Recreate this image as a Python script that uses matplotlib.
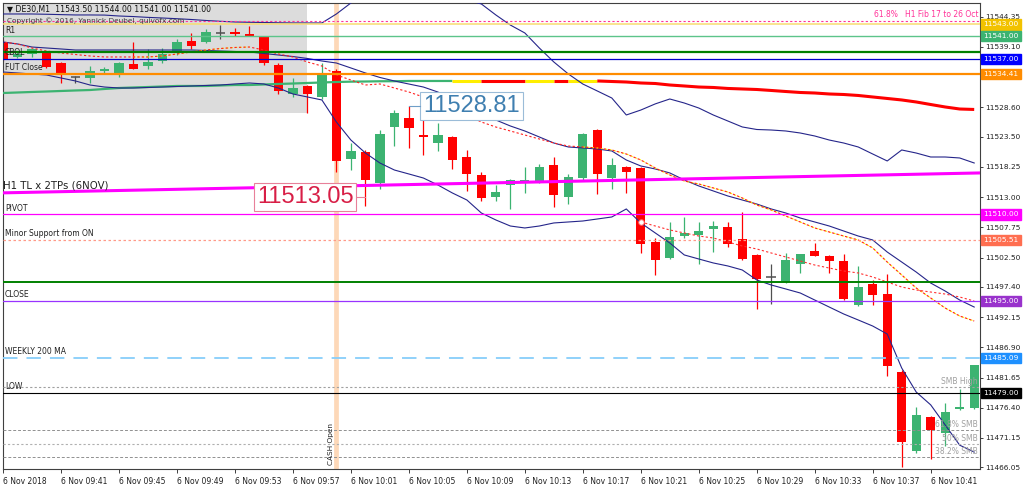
import matplotlib
matplotlib.use("Agg")
import matplotlib.pyplot as plt

# DE30 M1 candles, 09:37 .. 10:44
opens = [11540.00, 11537.40, 11537.85, 11538.26, 11536.35, 11533.92, 11533.64, 11534.85, 11534.38, 11536.18,
         11535.77, 11536.65, 11538.26, 11540.10, 11540.00, 11541.46, 11541.74, 11541.34, 11540.87, 11535.95,
         11530.85, 11532.30, 11530.44, 11534.90, 11519.60, 11520.77, 11515.48, 11525.20, 11526.78, 11523.78,
         11522.33, 11523.48, 11520.00, 11516.82, 11512.94, 11515.08, 11515.66, 11515.66, 11518.56, 11512.94,
         11516.24, 11524.65, 11516.35, 11518.25, 11518.08, 11505.22, 11502.50, 11506.26, 11506.50, 11507.38,
         11507.83, 11505.64, 11502.90, 11499.10, 11498.27, 11501.30, 11503.60, 11502.74, 11501.87, 11494.26,
         11497.86, 11496.20, 11482.61, 11468.87, 11474.79, 11472.07, 11476.24, 11476.41]
highs = [11540.30, 11538.20, 11538.96, 11538.40, 11536.45, 11534.00, 11535.83, 11535.55, 11536.40, 11540.00,
         11538.68, 11538.85, 11540.40, 11541.46, 11542.16, 11542.90, 11542.33, 11542.73, 11540.95, 11536.24,
         11533.64, 11532.45, 11536.24, 11535.20, 11522.33, 11521.10, 11524.65, 11528.12, 11528.81, 11526.38,
         11525.80, 11523.60, 11521.17, 11517.40, 11515.08, 11516.20, 11518.25, 11518.68, 11519.90, 11517.10,
         11524.18, 11524.80, 11519.72, 11518.40, 11518.20, 11505.98, 11508.70, 11509.57, 11508.70, 11508.87,
         11508.70, 11510.44, 11503.20, 11501.46, 11503.37, 11503.20, 11505.03, 11502.90, 11503.08, 11501.05,
         11498.67, 11499.72, 11483.03, 11476.53, 11474.90, 11477.22, 11479.72, 11483.77]
lows = [11536.60, 11537.10, 11537.40, 11535.38, 11532.87, 11532.87, 11532.87, 11534.50, 11533.92, 11535.30,
        11535.20, 11536.30, 11537.70, 11538.68, 11539.72, 11540.40, 11541.00, 11541.00, 11535.95, 11530.85,
        11530.44, 11527.55, 11529.98, 11517.40, 11517.70, 11511.40, 11514.33, 11521.86, 11521.46, 11520.30,
        11521.05, 11517.86, 11514.09, 11512.30, 11512.30, 11510.85, 11513.74, 11515.40, 11511.20, 11511.72,
        11515.90, 11513.46, 11514.33, 11513.80, 11503.37, 11499.55, 11502.30, 11505.98, 11501.46, 11503.48,
        11504.30, 11502.00, 11493.50, 11494.50, 11498.00, 11499.80, 11502.74, 11499.80, 11495.20, 11494.00,
        11494.26, 11481.86, 11466.10, 11468.60, 11467.55, 11469.70, 11476.00, 11476.20]
closes = [11536.94, 11537.90, 11538.68, 11535.65, 11534.38, 11533.92, 11534.90, 11535.25, 11536.35, 11535.30,
          11536.47, 11537.86, 11540.00, 11539.25, 11541.74, 11541.46, 11541.34, 11541.05, 11536.24, 11531.43,
          11531.90, 11530.85, 11534.21, 11519.25, 11521.00, 11515.95, 11523.90, 11527.55, 11524.94, 11523.38,
          11523.78, 11519.43, 11516.94, 11512.77, 11513.90, 11515.95, 11515.95, 11518.25, 11513.35, 11516.53,
          11523.90, 11516.94, 11518.56, 11517.28, 11504.93, 11502.16, 11506.09, 11506.85, 11507.05, 11507.95,
          11504.93, 11502.22, 11498.73, 11499.10, 11502.04, 11503.08, 11502.74, 11501.87, 11495.38, 11497.45,
          11495.95, 11483.60, 11470.44, 11475.08, 11472.47, 11475.66, 11476.53, 11483.77]

# indicator lines
band_up = [11544.82, 11544.82, 11544.82, 11544.77, 11544.71, 11544.65, 11544.65, 11544.63, 11544.47, 11544.37,
           11544.23, 11544.12, 11544.00, 11543.86, 11543.69, 11543.55, 11543.43, 11543.38, 11543.34, 11543.29,
           11543.26, 11543.26, 11543.26, 11544.82, 11546.73, 11548.30, 11549.70, 11550.40, 11550.70, 11550.40,
           11549.35, 11547.95, 11547.25, 11546.56, 11544.65, 11542.90, 11541.52, 11538.91, 11536.48, 11534.40,
           11532.65, 11531.44, 11530.22, 11527.27, 11528.13, 11529.20, 11530.05, 11529.35, 11528.48, 11527.27,
           11526.23, 11525.19, 11524.75, 11524.66, 11524.49, 11524.14, 11523.62, 11522.92, 11522.40, 11521.71,
           11520.49, 11519.28, 11521.19, 11520.66, 11519.97, 11519.97, 11519.80, 11518.93]
band_mid = [11539.95, 11539.61, 11539.08, 11538.91, 11538.74, 11538.56, 11538.56, 11538.56, 11538.56, 11538.56,
            11538.56, 11538.56, 11538.56, 11538.56, 11538.48, 11538.39, 11538.30, 11538.22, 11537.96, 11537.69,
            11537.43, 11537.09, 11536.65, 11536.30, 11535.44, 11534.57, 11533.79, 11533.18, 11532.65, 11532.13,
            11531.26, 11530.05, 11528.83, 11527.61, 11526.40, 11525.36, 11524.49, 11523.45, 11522.40, 11521.71,
            11521.54, 11521.36, 11521.02, 11519.45, 11518.41, 11517.89, 11517.20, 11515.98, 11514.94, 11514.07,
            11513.20, 11512.50, 11511.80, 11510.94, 11510.24, 11509.37, 11508.68, 11507.98, 11507.11, 11506.24,
            11505.55, 11503.46, 11501.72, 11499.98, 11498.07, 11496.68, 11495.12, 11493.90]
band_low = [11534.74, 11534.57, 11534.39, 11534.22, 11533.70, 11533.18, 11532.48, 11532.13, 11531.96, 11531.96,
            11532.05, 11532.13, 11532.22, 11532.31, 11532.40, 11532.48, 11532.66, 11532.83, 11532.66, 11531.96,
            11530.92, 11530.40, 11529.88, 11526.05, 11522.92, 11520.67, 11518.93, 11517.71, 11517.02, 11516.32,
            11515.11, 11513.72, 11512.50, 11510.24, 11509.03, 11507.98, 11507.64, 11507.98, 11508.51, 11508.68,
            11508.85, 11509.20, 11509.55, 11510.94, 11508.51, 11506.77, 11505.03, 11502.95, 11502.25, 11501.56,
            11501.04, 11500.34, 11498.60, 11497.73, 11497.04, 11496.34, 11495.12, 11493.90, 11492.69, 11491.65,
            11490.60, 11489.21, 11483.30, 11479.13, 11476.90, 11473.40, 11469.90, 11468.70]
ma_fast = [11539.95, 11539.61, 11538.91, 11538.39, 11538.04, 11537.78, 11537.52, 11537.35, 11537.35, 11537.35,
           11537.35, 11537.52, 11537.87, 11538.22, 11538.56, 11538.82, 11539.00, 11539.08, 11538.56, 11537.87,
           11537.35, 11536.48, 11535.78, 11534.22, 11533.35, 11532.48, 11532.66, 11531.96, 11531.26, 11530.40,
           11529.53, 11528.66, 11527.27, 11526.05, 11525.18, 11524.49, 11523.79, 11523.10, 11522.40, 11521.88,
           11521.71, 11521.54, 11521.19, 11520.49, 11519.45, 11518.06, 11516.85, 11515.80, 11515.28, 11514.59,
           11513.89, 11512.85, 11511.63, 11510.76, 11509.72, 11508.68, 11507.64, 11506.94, 11506.24, 11505.55,
           11504.16, 11501.72, 11499.47, 11497.21, 11495.47, 11493.73, 11492.34, 11491.47]
ma_slow = [11531.09, 11531.18, 11531.27, 11531.35, 11531.44, 11531.53, 11531.61, 11531.79, 11531.96, 11532.05,
           11532.13, 11532.22, 11532.31, 11532.31, 11532.31, 11532.40, 11532.48, 11532.48, 11532.57, 11532.66,
           11532.74, 11532.83, 11532.92, 11533.00, 11533.06, 11533.09, 11533.13, 11533.14, 11533.18, 11533.18,
           11533.18, 11533.18, 11533.18, 11533.18, 11533.18, 11533.18, 11533.18, 11533.18, 11533.18, 11533.18,
           11533.18, 11533.18, 11533.09, 11533.00, 11532.83, 11532.74, 11532.48, 11532.31, 11532.13, 11532.05,
           11531.88, 11531.79, 11531.70, 11531.53, 11531.35, 11531.18, 11531.09, 11530.92, 11530.83, 11530.66,
           11530.40, 11530.14, 11529.88, 11529.53, 11529.09, 11528.66, 11528.31, 11528.23]
ma_mid_start = 44
ma_mid = [11508.68, 11507.98, 11507.29, 11506.77, 11506.24, 11505.90, 11505.20, 11504.51, 11503.99, 11503.29,
          11502.60, 11501.90, 11501.20, 11500.68, 11500.16, 11499.82, 11499.12, 11498.25, 11497.38, 11496.86,
          11496.51, 11496.16, 11495.64, 11494.95]

# trend line H1 TL
tl_bars = [0, 67.4]
tl_prices = [11513.74, 11517.20]

# horizontal levels
fib_618 = 11543.60
lvl_yellow = 11543.00
lvl_r1 = 11541.00
lvl_green = 11538.30
lvl_cbol = 11537.00
lvl_fut = 11534.41
lvl_pivot = 11510.00
lvl_minor = 11505.51
lvl_green2 = 11498.20
lvl_close = 11495.00
lvl_weekly = 11485.09
lvl_smb_high = 11480.00
lvl_low = 11479.00
smb_fibs = [11472.50, 11470.05, 11467.82]
smb_names = ["61.8% SMB", "50% SMB", "38.2% SMB"]

cash_open_bar = 23
shade_end_bar = 21.0
shade_bottom = 11527.56

price_ticks = [11544.35, 11539.10, 11533.85, 11528.60, 11523.50, 11518.25, 11513.00, 11507.75,
               11502.50, 11497.40, 11492.15, 11486.90, 11481.65, 11476.40, 11471.15, 11466.05]
time_ticks = [0, 4, 8, 12, 16, 20, 24, 28, 32, 36, 40, 44, 48, 52, 56, 60, 64]
time_labels = ["6 Nov 2018", "6 Nov 09:41", "6 Nov 09:45", "6 Nov 09:49", "6 Nov 09:53", "6 Nov 09:57",
               "6 Nov 10:01", "6 Nov 10:05", "6 Nov 10:09", "6 Nov 10:13", "6 Nov 10:17", "6 Nov 10:21",
               "6 Nov 10:25", "6 Nov 10:29", "6 Nov 10:33", "6 Nov 10:37", "6 Nov 10:41"]

n = len(opens)
bars = list(range(n))

fig = plt.figure(figsize=(10.24, 4.88), dpi=100)
ax = fig.add_axes([3 / 1024, 19 / 488, 977 / 1024, 466.3 / 488])
ax.set_xlim(0, 67.4)
ax.set_ylim(11465.76, 11546.78)
ytr = ax.get_yaxis_transform()

# background box + cash open band
ax.fill_between([0, shade_end_bar], shade_bottom, 11546.78, color="#dcdcdc", lw=0, zorder=0)
ax.axvline(cash_open_bar, color="#fdd8b8", lw=3.4, zorder=0.5)
ax.text(cash_open_bar - 0.37, 11466.45, "CASH Open", rotation=90, ha="center", va="bottom",
        fontsize=5.3, color="#202020", zorder=5)

# candles
up_col = "#3cb371"
dn_col = "#ff0000"
for i in bars:
    o, h, l, c = opens[i], highs[i], lows[i], closes[i]
    if c > o:
        col = up_col
    elif c < o:
        col = dn_col
    else:
        col = "#505050"
    ax.vlines(i, l, h, color=col, lw=0.9, zorder=2)
    if c == o:
        ax.hlines(o, i - 0.33, i + 0.33, color=col, lw=1.1, zorder=2)
    else:
        ax.bar(i, abs(c - o), bottom=min(o, c), width=0.64, color=col, lw=0, zorder=2)

# slow MA with trend colours
green_c = "#3cb371"
yellow_c = "#ffee00"
seg_ends = [0, 31, 33, 36, 38, 39, 41, 67]
seg_cols = [green_c, yellow_c, dn_col, yellow_c, dn_col, yellow_c, dn_col]
for k in range(len(seg_cols)):
    a, b = seg_ends[k], seg_ends[k + 1]
    lw = 1.6 if seg_cols[k] == green_c else 2.2
    ax.plot(bars[a:b + 1], ma_slow[a:b + 1], color=seg_cols[k], lw=lw, zorder=3,
            solid_capstyle="butt")

# bands
navy = "#25258a"
ax.plot(bars, band_up, color=navy, lw=0.8, zorder=3.2)
ax.plot(bars, band_mid, color=navy, lw=0.8, zorder=3.2)
ax.plot(bars, band_low, color=navy, lw=0.8, zorder=3.2)

# fast MA, red dotted with yellow parts
for a, b in [(9, 17), (40, 67)]:
    ax.plot(bars[a:b + 1], ma_fast[a:b + 1], color=yellow_c, lw=0.8, ls=(0, (2, 2)), zorder=3.3)
ax.plot(bars, ma_fast, color="#ff2020", lw=0.8, ls=(2, (2, 2)), zorder=3.4)

mid_bars = bars[ma_mid_start:]
ax.plot(mid_bars, ma_mid, color="#ff3030", lw=0.8, ls=(0, (2, 2)), zorder=3.4)
ax.plot(mid_bars[0], ma_mid[0], "o", ms=4, mfc="white", mec="#ff6060", mew=0.7, zorder=3.5)

# trend line
ax.plot(tl_bars, tl_prices, color="#ff00ff", lw=2.2, zorder=3.6)


def hline(p, col, lw, ls="-"):
    ax.axhline(p, color=col, lw=lw, ls=ls, zorder=3.6)


hline(fib_618, "#ff3399", 0.8, (0, (2, 2)))
hline(lvl_yellow, "#f8dc70", 1.1)
hline(lvl_r1, "#5cc48a", 1.0)
hline(lvl_green, "#008000", 1.6)
hline(lvl_cbol, "#0000cd", 0.9)
hline(lvl_fut, "#ff8c00", 1.6)
hline(lvl_pivot, "#ff00ff", 0.9)
hline(lvl_minor, "#ff9a88", 0.9, (0, (2, 2)))
hline(lvl_green2, "#008000", 1.4)
hline(lvl_close, "#9933ff", 0.9)
hline(lvl_weekly, "#87cefa", 1.3, (0, (8, 5)))
hline(lvl_smb_high, "#a0a0a0", 0.8, (0, (2, 2)))
hline(lvl_low, "#000000", 0.8)
hline(smb_fibs[0], "#909090", 0.7, (0, (3, 2)))
hline(smb_fibs[1], "#b0b0b0", 0.8, (0, (2, 2)))
hline(smb_fibs[2], "#909090", 0.7, (0, (3, 2)))

# left labels
lab_kw = dict(xycoords=ytr, textcoords="offset points", va="bottom", ha="left",
              fontsize=5.5, color="#202020", zorder=6)
ax.annotate("R1", (0.002, lvl_r1), xytext=(0, 1.0), **lab_kw)
ax.annotate("CBOL", (0.002, lvl_cbol), xytext=(0, 1.2), **lab_kw)
ax.annotate("FUT Close", (0.002, lvl_fut), xytext=(0, 1.2), **lab_kw)
ax.annotate("PIVOT", (0.002, lvl_pivot), xytext=(0, 1.2), **lab_kw)
ax.annotate("Minor Support from ON", (0.002, lvl_minor), xytext=(0, 1.8), **lab_kw)
ax.annotate("CLOSE", (0.002, lvl_close), xytext=(0, 1.2), **lab_kw)
ax.annotate("WEEKLY 200 MA", (0.002, lvl_weekly), xytext=(0, 1.2), **lab_kw)
ax.annotate("LOW", (0.002, lvl_low), xytext=(0, 1.2), **lab_kw)
ax.annotate("H1 TL x 2TPs (6NOV)", (0.0, tl_prices[0]), xycoords="data", xytext=(0, 2),
            textcoords="offset points", va="bottom", ha="left", fontsize=7.3, color="#202020", zorder=6)

# right side labels
ax.annotate("61.8%   H1 Fib 17 to 26 Oct", (0.998, fib_618), xycoords=ytr, xytext=(0, 1.5),
            textcoords="offset points", va="bottom", ha="right", fontsize=5.5, color="#ff3399", zorder=6)
ax.annotate("SMB High", (0.998, lvl_smb_high), xycoords=ytr, xytext=(0, 1),
            textcoords="offset points", va="bottom", ha="right", fontsize=5.5, color="#a0a0a0", zorder=6)
for p, name in zip(smb_fibs, smb_names):
    ax.annotate(name, (0.998, p), xycoords=ytr, xytext=(0, 1),
                textcoords="offset points", va="bottom", ha="right", fontsize=5.5, color="#a0a0a0", zorder=6)

# title
ax.text(0.004, 0.996, "\u25bc DE30,M1  11543.50 11544.00 11541.00 11541.00", transform=ax.transAxes,
        ha="left", va="top", fontsize=5.6, color="#101010", zorder=6)
ax.text(0.004, 0.969, "Copyright \u00a9 2016, Yannick Deubel, quivofx.com", transform=ax.transAxes,
        ha="left", va="top", fontsize=5.3, color="#404040", zorder=6)

# price callouts
big_font = ["Liberation Sans", "DejaVu Sans"]
ax.text(20.85, 11513.0, "11513.05", ha="center", va="center", fontsize=17, family=big_font,
        color="#d81e46", zorder=7,
        bbox=dict(boxstyle="square,pad=0.12", fc="white", ec="#e8809a", lw=0.8))
ax.plot([24.45, 25], [11513.05, 11513.05], color="#e8809a", lw=0.8, zorder=7)
ax.text(32.33, 11528.8, "11528.81", ha="center", va="center", fontsize=17, family=big_font,
        color="#3f7fb0", zorder=7,
        bbox=dict(boxstyle="square,pad=0.12", fc="white", ec="#9bbcd8", lw=0.8))
ax.plot([28, 28.8], [11528.81, 11528.81], color="#6f9fc8", lw=0.8, zorder=7)

# axis boxes on the right
box_levels = [lvl_yellow, lvl_r1, lvl_cbol, lvl_fut, lvl_pivot, lvl_minor, lvl_close, lvl_weekly, lvl_low]
box_cols = ["#f2c200", "#3cb371", "#0000ff", "#ff8c00", "#ff00ff", "#ff6e50", "#9932cc", "#1e90ff", "#000000"]
for p, col in zip(box_levels, box_cols):
    ax.text(1.0035, p, f"{p:.2f}", transform=ytr, ha="left", va="center", fontsize=5.3,
            color="white", zorder=10, clip_on=False,
            bbox=dict(boxstyle="square,pad=0.3", fc=col, ec=col))

# axes
ax.yaxis.tick_right()
ax.set_yticks(price_ticks)
ax.set_yticklabels([f"{v:.2f}" for v in price_ticks])
ax.set_xticks(time_ticks)
ax.set_xticklabels(time_labels)
for lbl in ax.get_xticklabels():
    lbl.set_ha("left")
ax.tick_params(axis="y", length=2.5, width=0.6, pad=1.5, labelsize=5.3, colors="#202020")
ax.tick_params(axis="x", length=3, width=0.6, pad=2.5, labelsize=5.5, colors="#202020")
for s in ax.spines.values():
    s.set_color("#404040")
    s.set_linewidth(0.8)

fig.savefig("out.png", dpi=100)
